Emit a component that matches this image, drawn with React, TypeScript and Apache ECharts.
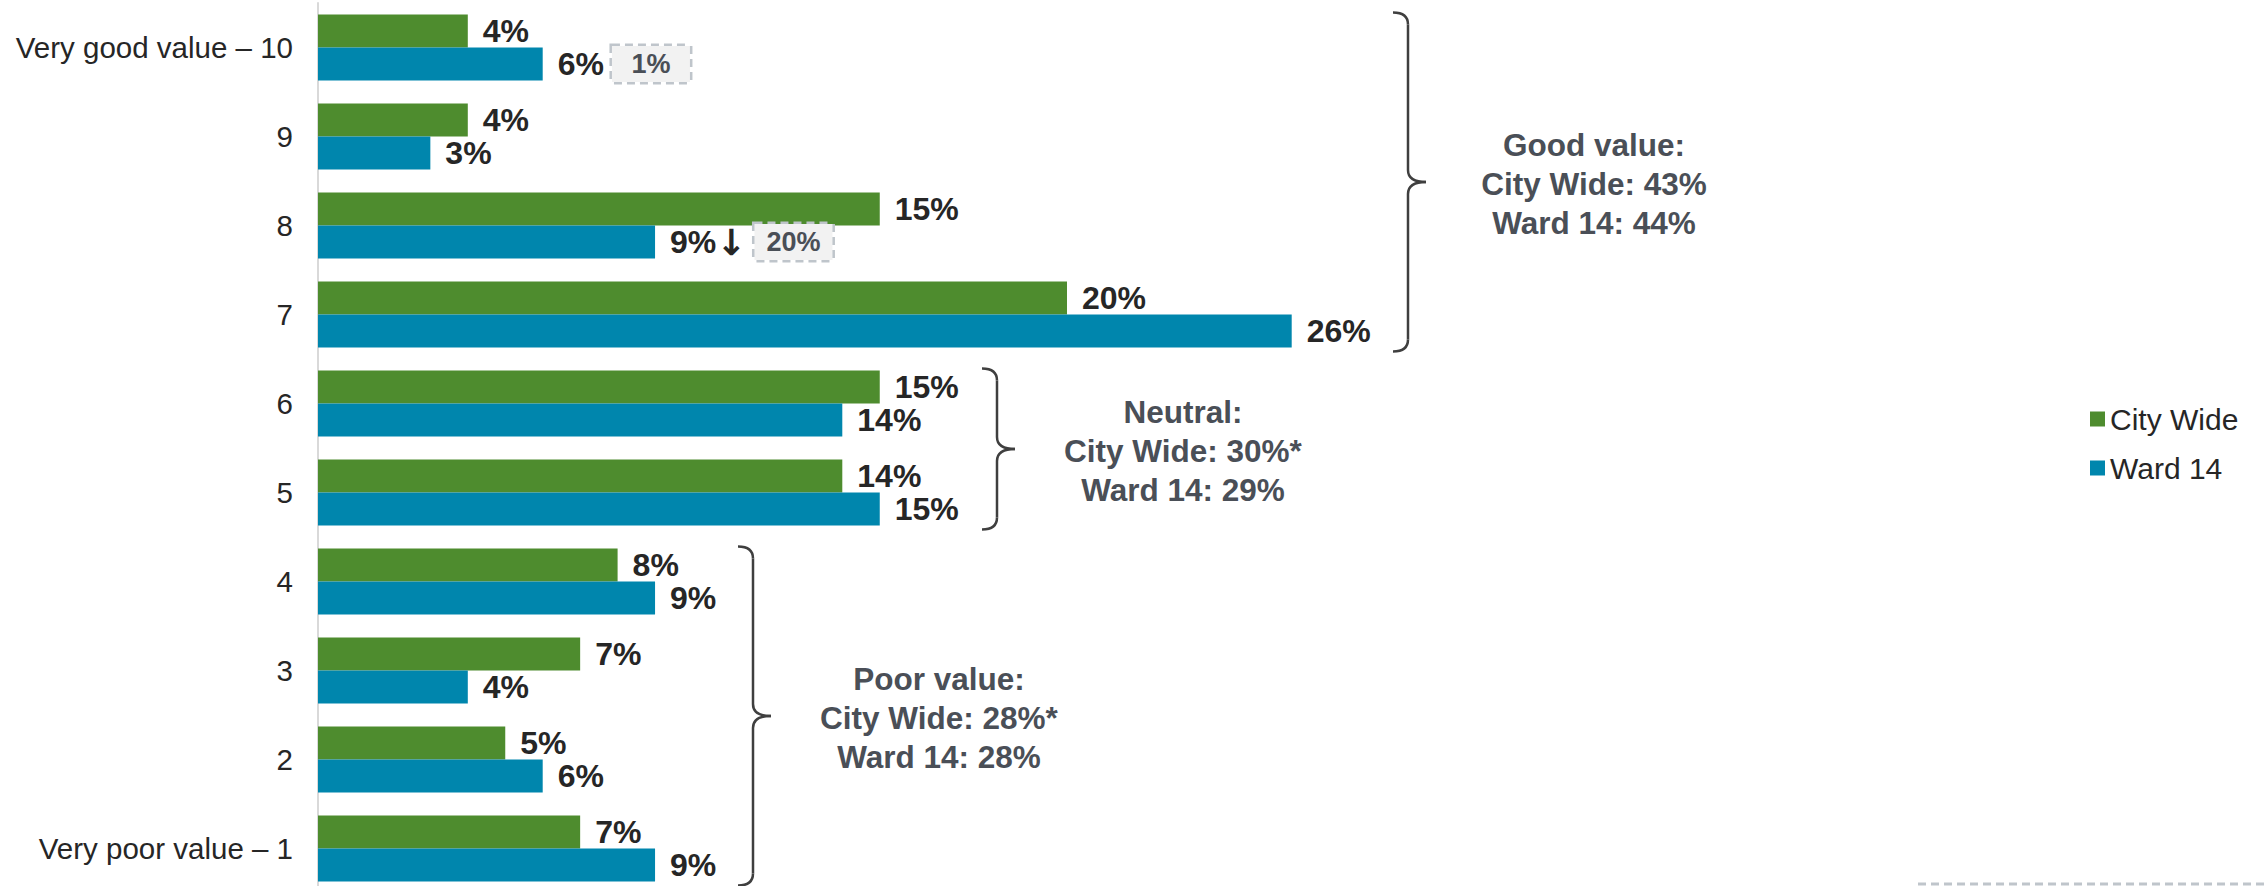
import React, { useEffect, useRef } from "react";
import * as echarts from "echarts";

const categories = [
  "Very good value – 10",
  "9",
  "8",
  "7",
  "6",
  "5",
  "4",
  "3",
  "2",
  "Very poor value – 1",
];
const cityWide = [4, 4, 15, 20, 15, 14, 8, 7, 5, 7];
const ward14 = [6, 3, 9, 26, 14, 15, 9, 4, 6, 9];
const wardArrow = ["", "", "↓", "", "", "", "", "", "", ""];
const wardBox = ["1%", "", "20%", "", "", "", "", "", "", ""];

const groupNames = ["Good value:", "Neutral:", "Poor value:"];
const groupCity = ["43%", "30%*", "28%*"];
const groupWard = ["44%", "29%", "28%"];
const groupFrom = ["Very good value – 10", "6", "4"];
const groupTo = ["7", "5", "Very poor value – 1"];
const braceX = [1393, 982, 738];

const FONT = "'Liberation Sans', Arial, Helvetica, sans-serif";
const GREEN = "#4E8C2E";
const BLUE = "#0086AD";
const LABEL = "#262626";
const NOTE = "#4A4F57";
const BAR_H = 33;

function braceEls(x: number, top: number, bottom: number) {
  const r = 15;
  const w = 33;
  const c = 12;
  const tip = (top + bottom) / 2;
  const style = { stroke: "#3F3F3F", lineWidth: 2.5, fill: "none" };
  return [
    { type: "bezierCurve", shape: { x1: x, y1: top, cpx1: x + r, cpy1: top, x2: x + r, y2: top + c }, style },
    { type: "line", shape: { x1: x + r, y1: top + c, x2: x + r, y2: tip - c }, style },
    { type: "bezierCurve", shape: { x1: x + r, y1: tip - c, cpx1: x + r, cpy1: tip, x2: x + w, y2: tip }, style },
    { type: "bezierCurve", shape: { x1: x + r, y1: tip + c, cpx1: x + r, cpy1: tip, x2: x + w, y2: tip }, style },
    { type: "line", shape: { x1: x + r, y1: tip + c, x2: x + r, y2: bottom - c }, style },
    { type: "bezierCurve", shape: { x1: x + r, y1: bottom - c, cpx1: x + r, cpy1: bottom, x2: x, y2: bottom }, style },
  ];
}

export default function App() {
  const ref = useRef<HTMLDivElement>(null);
  useEffect(() => {
    document.body.style.margin = "0";
    document.body.style.overflow = "hidden";
    if (!ref.current) return;
    const chart = echarts.init(ref.current, null, { renderer: "svg" });
    const perPct = 37.45;
    const xMax = 50;
    chart.setOption({
      animation: false,
      backgroundColor: "#ffffff",
      textStyle: { fontFamily: FONT },
      grid: { left: 318, top: 3, width: perPct * xMax, height: 890, containLabel: false },
      xAxis: {
        type: "value",
        min: 0,
        max: xMax,
        show: false,
        splitLine: { show: false },
      },
      yAxis: {
        type: "category",
        data: categories,
        inverse: true,
        axisLine: { show: true, lineStyle: { color: "#D9D9D9", width: 2 } },
        axisTick: { show: false },
        axisLabel: { color: LABEL, fontSize: 29.5, fontFamily: FONT, margin: 25 },
      },
      legend: {
        orient: "vertical",
        left: 2085,
        top: 399,
        itemWidth: 15,
        itemHeight: 15,
        itemGap: 19,
        icon: "rect",
        textStyle: { color: LABEL, fontSize: 30, fontFamily: FONT, lineHeight: 30 },
        data: ["City Wide", "Ward 14"],
      },
      series: [
        {
          name: "City Wide",
          type: "bar",
          data: cityWide,
          barWidth: BAR_H,
          barGap: "0%",
          itemStyle: { color: GREEN },
          label: {
            show: true,
            position: "right",
            distance: 15,
            formatter: "{c}%",
            color: LABEL,
            fontSize: 32,
            fontWeight: "bold",
            fontFamily: FONT,
          },
        },
        {
          name: "Ward 14",
          type: "bar",
          data: ward14,
          barWidth: BAR_H,
          barGap: "0%",
          itemStyle: { color: BLUE },
          label: {
            show: true,
            position: "right",
            distance: 15,
            formatter: (p: any) => {
              const i = p.dataIndex;
              let s = `{v|${p.value}%}`;
              if (wardArrow[i]) s += `{arr|${wardArrow[i]}}`;
              if (wardBox[i]) s += `{sp| }{box|${wardBox[i]}}`;
              return s;
            },
            rich: {
              v: { color: LABEL, fontSize: 32, fontWeight: "bold", fontFamily: FONT },
              arr: { color: LABEL, fontSize: 36, fontWeight: "bold", fontFamily: "'DejaVu Sans', sans-serif" },
              sp: { width: 8, fontSize: 10 },
              box: {
                color: NOTE,
                fontSize: 27,
                fontWeight: "bold",
                fontFamily: FONT,
                backgroundColor: "#F2F2F2",
                borderColor: "#BFC5CB",
                borderWidth: 2.5,
                borderType: [8, 5],
                width: 74,
                height: 30,
                lineHeight: 30,
                align: "center",
                padding: [3, 2, 3, 2],
              },
            },
          },
        },
      ],
    });

    const elements: any[] = [];
    for (let g = 0; g < groupNames.length; g++) {
      const yTop = chart.convertToPixel({ yAxisIndex: 0 }, groupFrom[g]) as number;
      const yBot = chart.convertToPixel({ yAxisIndex: 0 }, groupTo[g]) as number;
      const top = yTop - BAR_H - 2;
      const bottom = yBot + BAR_H + 4;
      const x = braceX[g];
      elements.push(...braceEls(x, top, bottom));
      elements.push({
        type: "text",
        x: x + 33 + 168,
        y: (top + bottom) / 2 + 2,
        style: {
          text: `${groupNames[g]}\nCity Wide: ${groupCity[g]}\nWard 14: ${groupWard[g]}`,
          fontSize: 31.5,
          fontWeight: "bold",
          fontFamily: FONT,
          fill: NOTE,
          align: "center",
          verticalAlign: "middle",
          lineHeight: 39,
        },
      });
    }
    elements.push({
      type: "line",
      shape: { x1: 1918, y1: 884, x2: 2264, y2: 884 },
      style: { stroke: "#BFC5CB", lineWidth: 3, lineDash: [8, 5] },
    });
    chart.setOption({ graphic: { elements } });

    return () => chart.dispose();
  }, []);
  return (
    <div
      ref={ref}
      style={{ position: "absolute", left: 0, top: 0, width: 2264, height: 900 }}
    />
  );
}
